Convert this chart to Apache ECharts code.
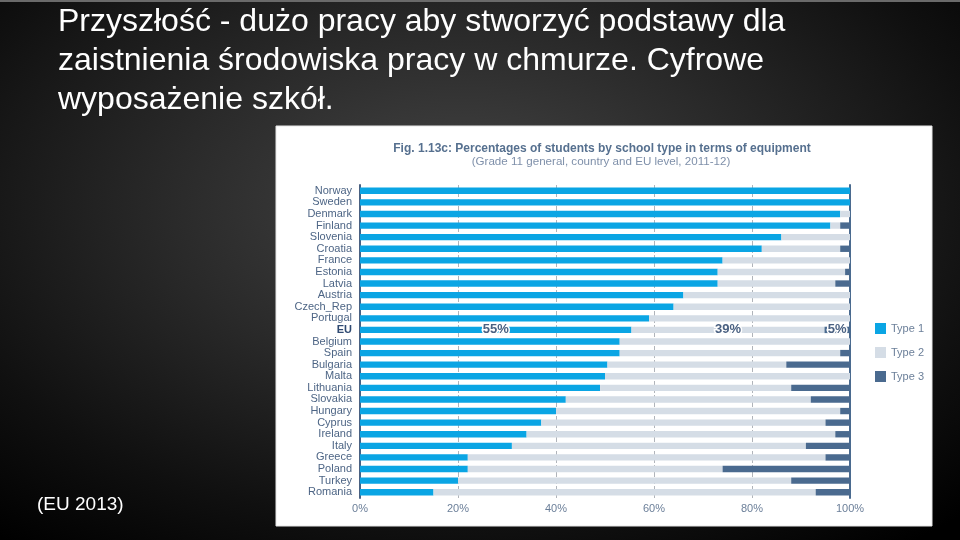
<!DOCTYPE html>
<html>
<head>
<meta charset="utf-8">
<script src="https://cdn.jsdelivr.net/npm/echarts@6/dist/echarts.min.js"></script>
<style>
html,body{margin:0;padding:0;background:#000;}
#main{width:960px;height:540px;background:radial-gradient(ellipse 75% 80% at 48% 38%, #464646 0%, #2a2a2a 40%, #101010 75%, #000 100%);}
</style>
</head>
<body>
<div id="main"></div>
<script>
var categories = ['Norway','Sweden','Denmark','Finland','Slovenia','Croatia','France','Estonia','Latvia','Austria','Czech_Rep','Portugal','EU','Belgium','Spain','Bulgaria','Malta','Lithuania','Slovakia','Hungary','Cyprus','Ireland','Italy','Greece','Poland','Turkey','Romania'];
var type1 = [100,100,98,96,86,82,74,73,73,66,64,59,55.4,53,53,50.5,50,49,42,40,37,34,31,22,22,20,15];
var type2 = [0,0,2,2,14,16,26,26,24,34,36,41,39.4,47,45,36.5,50,39,50,58,58,63,60,73,52,68,78];
var type3 = [0,0,0,2,0,2,0,1,3,0,0,0,5.2,0,2,13,0,12,8,2,5,3,9,5,26,12,7];
var xTicks = [0,20,40,60,80,100];
var seriesNames = ['Type 1','Type 2','Type 3'];
var slideTitle = ['Przyszłość - dużo pracy aby stworzyć podstawy dla','zaistnienia środowiska pracy w chmurze. Cyfrowe','wyposażenie szkół.'];
var chartTitle = 'Fig. 1.13c: Percentages of students by school type in terms of equipment';
var chartSubtitle = '(Grade 11 general, country and EU level, 2011-12)';
var sourceNote = '(EU 2013)';
var highlight = 'EU';

var FONT = 'Liberation Sans, Arial, sans-serif';
var colors = ['#0aa5e4','#d5dde6','#4a6a8f'];

function build(arr){
  return arr.map(function(v, i){
    if (categories[i] === highlight) {
      return {value: v, label: {show: true}};
    }
    return v;
  });
}

var chart = echarts.init(document.getElementById('main'), null, {renderer:'canvas'});
var labelCfg = {
  show: false, position: 'inside',
  formatter: function(p){ return Math.round(p.value) + '%'; },
  color: '#4a6182', fontSize: 13, fontWeight: 'bold', fontFamily: FONT,
  textBorderColor: '#ffffff', textBorderWidth: 3
};
var series = [type1, type2, type3].map(function(arr, k){
  return {
    name: seriesNames[k], type: 'bar', stack: 'all',
    data: build(arr), barWidth: '55%',
    itemStyle: {color: colors[k]},
    label: labelCfg,
    emphasis: {disabled: true}
  };
});

var graphics = [
  {type:'rect', shape:{x:276, y:126, width:656, height:400}, style:{fill:'#ffffff', stroke:'#e6e6e6', lineWidth:1}, z:-10},
  {type:'text', x:602, y:149, style:{text:chartTitle, font:'bold 12px ' + FONT, fill:'#56708f', textAlign:'center', textVerticalAlign:'middle'}},
  {type:'text', x:601, y:162, style:{text:chartSubtitle, font:'11.6px ' + FONT, fill:'#7f90aa', textAlign:'center', textVerticalAlign:'middle'}},
  {type:'text', x:37, y:505, style:{text:sourceNote, font:'19px ' + FONT, fill:'#ffffff', textVerticalAlign:'middle'}},
  {type:'rect', shape:{x:0, y:0, width:960, height:2}, style:{fill:'#6a6a6a'}}
];
slideTitle.forEach(function(t, i){
  graphics.push({type:'text', x:58, y:22 + i*39, style:{text:t, font:'32px ' + FONT, fill:'#ffffff', textVerticalAlign:'middle'}});
});

chart.setOption({
  backgroundColor: 'transparent',
  animation: false,
  textStyle: {fontFamily: FONT},
  graphic: graphics,
  legend: {
    data: seriesNames, orient: 'vertical', left: 870, top: 318,
    itemWidth: 11, itemHeight: 11, itemGap: 13, icon: 'rect',
    textStyle: {color: '#6b7f99', fontSize: 11, fontFamily: FONT}
  },
  grid: {left: 360, right: 110, top: 185, bottom: 42, containLabel: false},
  xAxis: {
    type: 'value', min: 0, max: 100, interval: 20,
    axisLine: {show: false}, axisTick: {show: false},
    axisLabel: {formatter: '{value}%', color: '#6b7f99', fontSize: 11, margin: 5, fontFamily: FONT},
    splitLine: {show: true, lineStyle: {color: '#b0b4ba', width: 1, type: [5, 2]}}
  },
  yAxis: [{
    type: 'category', data: categories, inverse: true,
    axisLine: {show: true, lineStyle: {color: '#4a6182', width: 2}},
    axisTick: {show: false},
    axisLabel: {
      interval: 0,
      color: '#4d6585', fontSize: 11, margin: 8, fontFamily: FONT,
      formatter: function(v){ return v === highlight ? '{b|' + v + '}' : v; },
      rich: {b: {fontWeight: 'bold', color: '#2f4a72', fontSize: 11, fontFamily: FONT}}
    }
  },{
    type: 'category', data: categories, inverse: true, position: 'right',
    axisLine: {show: true, lineStyle: {color: '#4a6a8f', width: 2}},
    axisTick: {show: false}, axisLabel: {show: false}, splitLine: {show: false}
  }],
  series: series
});
</script>
</body>
</html>
